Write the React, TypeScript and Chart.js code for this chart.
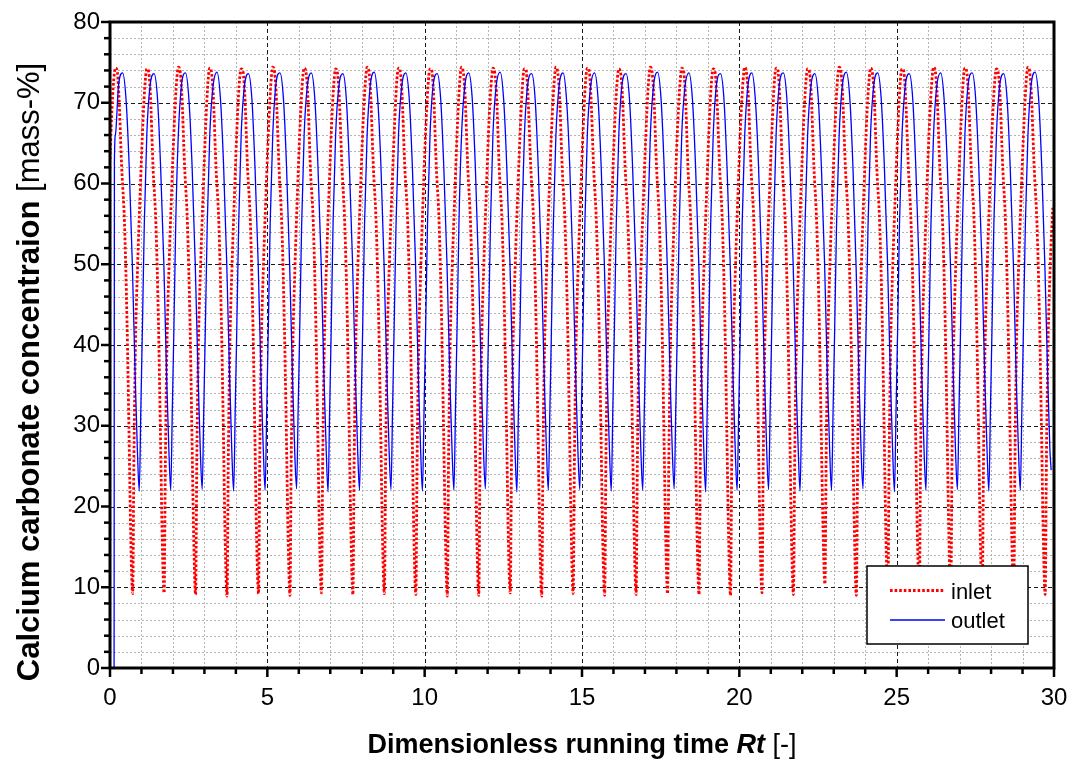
import React, { useEffect, useRef } from 'react';
import { Chart, registerables } from 'chart.js';

Chart.register(...registerables);

// ---------- data ----------
const seriesNames = ['inlet', 'outlet'];

const xMajorTicks = [0, 5, 10, 15, 20, 25, 30];
const yMajorTicks = [0, 10, 20, 30, 40, 50, 60, 70, 80];
const xMinorStep = 1;
const yMinorStep = 2;

const inletTime = [
  0,
  0.05, 0.12, 0.17, 0.22, 0.28, 0.37, 0.46, 0.54, 0.60, 0.66, 0.72, 0.76, 0.81, 0.88, 0.96,
  1.05, 1.12, 1.17, 1.22, 1.28, 1.37, 1.46, 1.54, 1.60, 1.66, 1.72, 1.76, 1.81, 1.88, 1.96,
  2.05, 2.12, 2.17, 2.22, 2.28, 2.37, 2.46, 2.54, 2.60, 2.66, 2.72, 2.76, 2.81, 2.88, 2.96,
  3.05, 3.12, 3.17, 3.22, 3.28, 3.37, 3.46, 3.54, 3.60, 3.66, 3.72, 3.76, 3.81, 3.88, 3.96,
  4.05, 4.12, 4.17, 4.22, 4.28, 4.37, 4.46, 4.54, 4.60, 4.66, 4.72, 4.76, 4.81, 4.88, 4.96,
  5.05, 5.12, 5.17, 5.22, 5.28, 5.37, 5.46, 5.54, 5.60, 5.66, 5.72, 5.76, 5.81, 5.88, 5.96,
  6.05, 6.12, 6.17, 6.22, 6.28, 6.37, 6.46, 6.54, 6.60, 6.66, 6.72, 6.76, 6.81, 6.88, 6.96,
  7.05, 7.12, 7.17, 7.22, 7.28, 7.37, 7.46, 7.54, 7.60, 7.66, 7.72, 7.76, 7.81, 7.88, 7.96,
  8.05, 8.12, 8.17, 8.22, 8.28, 8.37, 8.46, 8.54, 8.60, 8.66, 8.72, 8.76, 8.81, 8.88, 8.96,
  9.05, 9.12, 9.17, 9.22, 9.28, 9.37, 9.46, 9.54, 9.60, 9.66, 9.72, 9.76, 9.81, 9.88, 9.96,
  10.05, 10.12, 10.17, 10.22, 10.28, 10.37, 10.46, 10.54, 10.60, 10.66, 10.72, 10.76, 10.81, 10.88, 10.96,
  11.05, 11.12, 11.17, 11.22, 11.28, 11.37, 11.46, 11.54, 11.60, 11.66, 11.72, 11.76, 11.81, 11.88, 11.96,
  12.05, 12.12, 12.17, 12.22, 12.28, 12.37, 12.46, 12.54, 12.60, 12.66, 12.72, 12.76, 12.81, 12.88, 12.96,
  13.05, 13.12, 13.17, 13.22, 13.28, 13.37, 13.46, 13.54, 13.60, 13.66, 13.72, 13.76, 13.81, 13.88, 13.96,
  14.05, 14.12, 14.17, 14.22, 14.28, 14.37, 14.46, 14.54, 14.60, 14.66, 14.72, 14.76, 14.81, 14.88, 14.96,
  15.05, 15.12, 15.17, 15.22, 15.28, 15.37, 15.46, 15.54, 15.60, 15.66, 15.72, 15.76, 15.81, 15.88, 15.96,
  16.05, 16.12, 16.17, 16.22, 16.28, 16.37, 16.46, 16.54, 16.60, 16.66, 16.72, 16.76, 16.81, 16.88, 16.96,
  17.05, 17.12, 17.17, 17.22, 17.28, 17.37, 17.46, 17.54, 17.60, 17.66, 17.72, 17.76, 17.81, 17.88, 17.96,
  18.05, 18.12, 18.17, 18.22, 18.28, 18.37, 18.46, 18.54, 18.60, 18.66, 18.72, 18.76, 18.81, 18.88, 18.96,
  19.05, 19.12, 19.17, 19.22, 19.28, 19.37, 19.46, 19.54, 19.60, 19.66, 19.72, 19.76, 19.81, 19.88, 19.96,
  20.05, 20.12, 20.17, 20.22, 20.28, 20.37, 20.46, 20.54, 20.60, 20.66, 20.72, 20.76, 20.81, 20.88, 20.96,
  21.05, 21.12, 21.17, 21.22, 21.28, 21.37, 21.46, 21.54, 21.60, 21.66, 21.72, 21.76, 21.81, 21.88, 21.96,
  22.05, 22.12, 22.17, 22.22, 22.28, 22.37, 22.46, 22.54, 22.60, 22.66, 22.72, 22.76, 22.81, 22.88, 22.96,
  23.05, 23.12, 23.17, 23.22, 23.28, 23.37, 23.46, 23.54, 23.60, 23.66, 23.72, 23.76, 23.81, 23.88, 23.96,
  24.05, 24.12, 24.17, 24.22, 24.28, 24.37, 24.46, 24.54, 24.60, 24.66, 24.72, 24.76, 24.81, 24.88, 24.96,
  25.05, 25.12, 25.17, 25.22, 25.28, 25.37, 25.46, 25.54, 25.60, 25.66, 25.72, 25.76, 25.81, 25.88, 25.96,
  26.05, 26.12, 26.17, 26.22, 26.28, 26.37, 26.46, 26.54, 26.60, 26.66, 26.72, 26.76, 26.81, 26.88, 26.96,
  27.05, 27.12, 27.17, 27.22, 27.28, 27.37, 27.46, 27.54, 27.60, 27.66, 27.72, 27.76, 27.81, 27.88, 27.96,
  28.05, 28.12, 28.17, 28.22, 28.28, 28.37, 28.46, 28.54, 28.60, 28.66, 28.72, 28.76, 28.81, 28.88, 28.96,
  29.05, 29.12, 29.17, 29.22, 29.28, 29.37, 29.46, 29.54, 29.60, 29.66, 29.72, 29.76, 29.81, 29.88, 29.96,
];

const inletValue = [
  63.0,
  68.2, 72.9, 74.3, 74.1, 71.2, 62.1, 55.2, 43.0, 30.1, 16.2, 9.2, 26.1, 40.2, 50.1, 59.0,
  67.9, 72.7, 74.2, 74.0, 71.4, 61.8, 54.9, 42.7, 29.8, 15.9, 9.3, 25.8, 39.9, 50.2, 59.2,
  68.1, 72.8, 74.4, 74.1, 71.3, 62.2, 55.1, 43.2, 30.0, 16.1, 9.1, 26.2, 40.1, 49.8, 58.9,
  68.0, 72.9, 74.3, 73.9, 71.1, 61.9, 55.0, 42.9, 30.2, 15.8, 8.9, 25.9, 40.0, 50.0, 59.1,
  68.3, 73.0, 74.2, 74.0, 71.3, 62.0, 55.3, 43.1, 29.9, 16.0, 9.2, 26.0, 40.3, 50.2, 59.0,
  67.8, 72.8, 74.4, 74.1, 71.2, 62.1, 54.8, 42.8, 30.1, 16.3, 9.0, 26.3, 39.8, 49.9, 59.2,
  68.1, 72.9, 74.3, 74.0, 71.4, 61.8, 55.1, 43.0, 30.0, 15.9, 9.3, 25.8, 40.1, 50.1, 58.8,
  68.0, 72.7, 74.2, 73.9, 71.2, 62.2, 55.0, 43.3, 29.8, 16.1, 9.1, 26.1, 40.0, 50.0, 59.1,
  68.2, 72.8, 74.4, 74.1, 71.3, 62.0, 54.9, 42.9, 30.2, 16.0, 9.2, 26.0, 40.2, 50.3, 59.0,
  67.9, 73.0, 74.3, 74.0, 71.1, 61.9, 55.2, 43.1, 30.0, 15.8, 9.1, 25.9, 39.9, 49.8, 59.3,
  68.1, 72.8, 74.2, 74.1, 71.4, 62.1, 55.0, 42.8, 29.9, 16.2, 8.9, 26.2, 40.1, 50.1, 58.9,
  68.0, 72.9, 74.4, 74.0, 71.2, 62.0, 54.8, 43.2, 30.1, 16.0, 9.0, 26.0, 40.0, 50.0, 59.1,
  68.2, 72.7, 74.3, 73.9, 71.3, 61.8, 55.1, 43.0, 30.0, 15.9, 9.3, 25.8, 40.3, 50.2, 59.0,
  67.8, 72.9, 74.2, 74.1, 71.1, 62.2, 55.3, 42.9, 29.8, 16.1, 8.9, 26.1, 39.8, 49.9, 59.2,
  68.1, 72.8, 74.4, 74.0, 71.4, 62.0, 55.0, 43.1, 30.2, 16.3, 9.2, 26.3, 40.1, 50.1, 58.8,
  68.0, 73.0, 74.3, 74.1, 71.2, 61.9, 54.9, 42.8, 30.0, 15.8, 9.0, 25.9, 40.0, 50.0, 59.1,
  68.3, 72.8, 74.2, 73.9, 71.3, 62.1, 55.2, 43.2, 29.9, 16.0, 9.1, 26.0, 40.2, 50.3, 59.0,
  67.9, 72.9, 74.4, 74.0, 71.1, 62.0, 55.0, 43.0, 30.1, 16.2, 9.2, 26.2, 39.9, 49.8, 59.3,
  68.1, 72.7, 74.3, 74.1, 71.4, 61.8, 54.8, 42.9, 30.0, 15.9, 9.1, 25.8, 40.1, 50.1, 58.9,
  68.0, 72.9, 74.2, 74.0, 71.2, 62.2, 55.1, 43.1, 29.8, 16.1, 9.0, 26.1, 40.0, 50.0, 59.1,
  68.2, 72.8, 74.4, 73.9, 71.3, 62.0, 55.3, 42.8, 30.2, 16.0, 9.3, 26.0, 40.3, 50.2, 59.0,
  67.8, 73.0, 74.3, 74.1, 71.1, 61.9, 55.0, 43.2, 30.0, 15.8, 9.1, 25.9, 39.8, 49.9, 59.2,
  68.1, 72.8, 74.2, 74.0, 71.4, 62.1, 54.9, 43.0, 29.9, 17.2, 10.4, 26.6, 40.1, 50.1, 58.8,
  68.0, 72.9, 74.4, 74.1, 71.2, 62.0, 55.2, 42.9, 30.1, 16.2, 9.0, 26.2, 40.0, 50.0, 59.1,
  68.2, 72.7, 74.3, 73.9, 71.3, 61.8, 55.0, 43.1, 30.0, 15.9, 9.2, 25.8, 40.2, 50.3, 59.0,
  67.9, 72.9, 74.2, 74.0, 71.1, 62.2, 54.8, 42.8, 29.8, 16.1, 9.1, 26.1, 39.9, 49.8, 59.3,
  68.1, 72.8, 74.4, 74.1, 71.4, 62.0, 55.1, 43.2, 30.2, 16.3, 9.0, 26.3, 40.1, 50.1, 58.9,
  68.0, 73.0, 74.3, 74.0, 71.2, 61.9, 55.3, 43.0, 30.0, 15.8, 9.2, 25.9, 40.0, 50.0, 59.1,
  68.3, 72.8, 74.2, 73.9, 71.3, 62.1, 55.0, 42.9, 29.9, 16.0, 9.1, 26.0, 40.2, 50.2, 59.0,
  67.9, 72.9, 74.4, 74.0, 71.1, 62.0, 54.9, 43.1, 30.1, 16.2, 9.1, 26.2, 39.9, 49.9, 57.0,
];

const outletTime = [
  0.13, 0.14, 0.17, 0.27, 0.40, 0.51, 0.61, 0.71, 0.80, 0.87, 0.93, 0.98,
  1.03, 1.09, 1.17, 1.27, 1.40, 1.51, 1.61, 1.71, 1.80, 1.87, 1.93, 1.98,
  2.03, 2.09, 2.17, 2.27, 2.40, 2.51, 2.61, 2.71, 2.80, 2.87, 2.93, 2.98,
  3.03, 3.09, 3.17, 3.27, 3.40, 3.51, 3.61, 3.71, 3.80, 3.87, 3.93, 3.98,
  4.03, 4.09, 4.17, 4.27, 4.40, 4.51, 4.61, 4.71, 4.80, 4.87, 4.93, 4.98,
  5.03, 5.09, 5.17, 5.27, 5.40, 5.51, 5.61, 5.71, 5.80, 5.87, 5.93, 5.98,
  6.03, 6.09, 6.17, 6.27, 6.40, 6.51, 6.61, 6.71, 6.80, 6.87, 6.93, 6.98,
  7.03, 7.09, 7.17, 7.27, 7.40, 7.51, 7.61, 7.71, 7.80, 7.87, 7.93, 7.98,
  8.03, 8.09, 8.17, 8.27, 8.40, 8.51, 8.61, 8.71, 8.80, 8.87, 8.93, 8.98,
  9.03, 9.09, 9.17, 9.27, 9.40, 9.51, 9.61, 9.71, 9.80, 9.87, 9.93, 9.98,
  10.03, 10.09, 10.17, 10.27, 10.40, 10.51, 10.61, 10.71, 10.80, 10.87, 10.93, 10.98,
  11.03, 11.09, 11.17, 11.27, 11.40, 11.51, 11.61, 11.71, 11.80, 11.87, 11.93, 11.98,
  12.03, 12.09, 12.17, 12.27, 12.40, 12.51, 12.61, 12.71, 12.80, 12.87, 12.93, 12.98,
  13.03, 13.09, 13.17, 13.27, 13.40, 13.51, 13.61, 13.71, 13.80, 13.87, 13.93, 13.98,
  14.03, 14.09, 14.17, 14.27, 14.40, 14.51, 14.61, 14.71, 14.80, 14.87, 14.93, 14.98,
  15.03, 15.09, 15.17, 15.27, 15.40, 15.51, 15.61, 15.71, 15.80, 15.87, 15.93, 15.98,
  16.03, 16.09, 16.17, 16.27, 16.40, 16.51, 16.61, 16.71, 16.80, 16.87, 16.93, 16.98,
  17.03, 17.09, 17.17, 17.27, 17.40, 17.51, 17.61, 17.71, 17.80, 17.87, 17.93, 17.98,
  18.03, 18.09, 18.17, 18.27, 18.40, 18.51, 18.61, 18.71, 18.80, 18.87, 18.93, 18.98,
  19.03, 19.09, 19.17, 19.27, 19.40, 19.51, 19.61, 19.71, 19.80, 19.87, 19.93, 19.98,
  20.03, 20.09, 20.17, 20.27, 20.40, 20.51, 20.61, 20.71, 20.80, 20.87, 20.93, 20.98,
  21.03, 21.09, 21.17, 21.27, 21.40, 21.51, 21.61, 21.71, 21.80, 21.87, 21.93, 21.98,
  22.03, 22.09, 22.17, 22.27, 22.40, 22.51, 22.61, 22.71, 22.80, 22.87, 22.93, 22.98,
  23.03, 23.09, 23.17, 23.27, 23.40, 23.51, 23.61, 23.71, 23.80, 23.87, 23.93, 23.98,
  24.03, 24.09, 24.17, 24.27, 24.40, 24.51, 24.61, 24.71, 24.80, 24.87, 24.93, 24.98,
  25.03, 25.09, 25.17, 25.27, 25.40, 25.51, 25.61, 25.71, 25.80, 25.87, 25.93, 25.98,
  26.03, 26.09, 26.17, 26.27, 26.40, 26.51, 26.61, 26.71, 26.80, 26.87, 26.93, 26.98,
  27.03, 27.09, 27.17, 27.27, 27.40, 27.51, 27.61, 27.71, 27.80, 27.87, 27.93, 27.98,
  28.03, 28.09, 28.17, 28.27, 28.40, 28.51, 28.61, 28.71, 28.80, 28.87, 28.93, 28.98,
  29.03, 29.09, 29.17, 29.27, 29.40, 29.51, 29.61, 29.71, 29.80, 29.87, 29.91,
];

const outletValue = [
  0.0, 62.5, 66.0, 72.1, 73.7, 70.4, 62.1, 50.0, 36.1, 27.0, 21.9, 32.1,
  42.1, 55.0, 66.1, 72.0, 73.6, 70.5, 61.9, 50.2, 35.9, 27.1, 22.0, 31.9,
  41.9, 55.2, 65.9, 72.1, 73.7, 70.3, 62.0, 49.9, 36.0, 26.9, 22.1, 32.0,
  42.0, 54.9, 66.0, 71.9, 73.8, 70.5, 62.2, 50.1, 36.2, 27.0, 21.9, 32.1,
  42.2, 55.1, 66.2, 72.0, 73.6, 70.4, 61.8, 50.0, 35.8, 27.2, 22.0, 31.8,
  41.8, 55.0, 65.8, 72.2, 73.7, 70.6, 62.1, 49.8, 36.1, 26.8, 22.2, 32.2,
  42.1, 54.8, 66.1, 72.0, 73.7, 70.4, 62.0, 50.2, 36.0, 27.1, 21.8, 31.9,
  41.9, 55.2, 66.0, 71.9, 73.6, 70.5, 61.9, 50.0, 35.9, 27.0, 22.0, 32.0,
  42.0, 55.1, 65.9, 72.1, 73.8, 70.3, 62.2, 49.9, 36.2, 26.9, 22.1, 32.1,
  42.2, 54.9, 66.2, 72.0, 73.7, 70.5, 62.0, 50.1, 36.0, 27.2, 21.9, 31.8,
  41.8, 55.0, 66.0, 72.2, 73.6, 70.4, 61.8, 50.0, 35.8, 27.0, 22.0, 32.2,
  42.1, 55.2, 65.8, 71.9, 73.7, 70.6, 62.1, 49.8, 36.1, 26.8, 22.2, 31.9,
  41.9, 54.8, 66.1, 72.0, 73.8, 70.4, 62.0, 50.2, 36.0, 27.1, 21.8, 32.0,
  42.0, 55.1, 66.0, 72.1, 73.6, 70.5, 61.9, 50.0, 35.9, 27.0, 22.0, 32.1,
  42.2, 55.0, 65.9, 72.0, 73.7, 70.3, 62.2, 49.9, 36.2, 26.9, 22.1, 31.8,
  41.8, 54.9, 66.2, 71.9, 73.7, 70.5, 62.0, 50.1, 36.0, 27.2, 21.9, 32.2,
  42.1, 55.2, 66.0, 72.2, 73.6, 70.4, 61.8, 50.0, 35.8, 27.0, 22.0, 31.9,
  41.9, 55.0, 65.8, 72.0, 73.8, 70.6, 62.1, 49.8, 36.1, 26.8, 22.2, 32.0,
  42.0, 54.8, 66.1, 71.9, 73.7, 70.4, 62.0, 50.2, 36.0, 27.1, 21.8, 32.1,
  42.2, 55.1, 66.0, 72.1, 73.6, 70.5, 61.9, 50.0, 35.9, 27.0, 22.0, 31.8,
  41.8, 55.0, 65.9, 72.0, 73.7, 70.3, 62.2, 49.9, 36.2, 26.9, 22.1, 32.2,
  42.1, 54.9, 66.2, 72.2, 73.7, 70.5, 62.0, 50.1, 36.0, 27.2, 21.9, 31.9,
  41.9, 55.2, 66.0, 71.9, 73.6, 70.4, 61.8, 50.0, 35.8, 27.0, 22.0, 32.0,
  42.0, 55.0, 65.8, 72.0, 73.8, 70.6, 62.1, 49.8, 36.1, 26.8, 22.2, 32.1,
  42.2, 54.8, 66.1, 72.1, 73.7, 70.4, 62.0, 50.2, 36.0, 27.1, 21.8, 31.8,
  41.8, 55.1, 66.0, 72.0, 73.6, 70.5, 61.9, 50.0, 35.9, 27.0, 22.0, 32.2,
  42.1, 55.0, 65.9, 71.9, 73.7, 70.3, 62.2, 49.9, 36.2, 26.9, 22.1, 31.9,
  41.9, 54.9, 66.2, 72.2, 73.7, 70.5, 62.0, 50.1, 36.0, 27.2, 21.9, 32.0,
  42.0, 55.2, 66.0, 72.0, 73.6, 70.4, 61.8, 50.0, 35.8, 27.0, 22.0, 32.1,
  42.2, 55.0, 65.8, 72.1, 73.8, 70.6, 62.1, 49.8, 36.1, 27.0, 24.5,
];

// ---------- styling ----------
const FONT = '"Liberation Sans", Arial, Helvetica, sans-serif';
const W = 1072;
const H = 765;

const decorPlugin = {
  id: 'decor',
  beforeDatasetsDraw(chart: any) {
    const { ctx, chartArea } = chart;
    const { left, right, top, bottom } = chartArea;
    const xs = chart.scales.x;
    const ys = chart.scales.y;
    const xMin = xMajorTicks[0];
    const xMax = xMajorTicks[xMajorTicks.length - 1];
    const yMin = yMajorTicks[0];
    const yMax = yMajorTicks[yMajorTicks.length - 1];
    ctx.save();
    ctx.strokeStyle = '#b4b4b4';
    ctx.lineWidth = 1;
    ctx.setLineDash([2, 2]);
    for (let v = xMin + xMinorStep; v < xMax; v += xMinorStep) {
      if (xMajorTicks.includes(v)) continue;
      const px = Math.round(xs.getPixelForValue(v)) + 0.5;
      ctx.beginPath();
      ctx.moveTo(px, top);
      ctx.lineTo(px, bottom);
      ctx.stroke();
    }
    for (let v = yMin + yMinorStep; v < yMax; v += yMinorStep) {
      if (yMajorTicks.includes(v)) continue;
      const py = Math.round(ys.getPixelForValue(v)) + 0.5;
      ctx.beginPath();
      ctx.moveTo(left, py);
      ctx.lineTo(right, py);
      ctx.stroke();
    }
    ctx.strokeStyle = '#1a1a1a';
    ctx.setLineDash([4, 3]);
    for (const v of xMajorTicks) {
      if (v === xMin || v === xMax) continue;
      const px = Math.round(xs.getPixelForValue(v)) + 0.5;
      ctx.beginPath();
      ctx.moveTo(px, top);
      ctx.lineTo(px, bottom);
      ctx.stroke();
    }
    for (const v of yMajorTicks) {
      if (v === yMin || v === yMax) continue;
      const py = Math.round(ys.getPixelForValue(v)) + 0.5;
      ctx.beginPath();
      ctx.moveTo(left, py);
      ctx.lineTo(right, py);
      ctx.stroke();
    }
    ctx.restore();
  },
  afterDatasetsDraw(chart: any) {
    const { ctx, chartArea } = chart;
    const { left, right, top, bottom } = chartArea;
    const xs = chart.scales.x;
    const ys = chart.scales.y;
    const xMin = xMajorTicks[0];
    const xMax = xMajorTicks[xMajorTicks.length - 1];
    const yMin = yMajorTicks[0];
    const yMax = yMajorTicks[yMajorTicks.length - 1];
    ctx.save();
    ctx.setLineDash([]);
    ctx.strokeStyle = '#000';
    ctx.lineWidth = 2.5;
    for (let v = xMin; v <= xMax; v += xMinorStep) {
      const len = xMajorTicks.includes(v) ? 9 : 6;
      const px = xs.getPixelForValue(v);
      ctx.beginPath();
      ctx.moveTo(px, bottom);
      ctx.lineTo(px, bottom + len);
      ctx.stroke();
    }
    for (let v = yMin; v <= yMax; v += yMinorStep) {
      const len = yMajorTicks.includes(v) ? 9 : 6;
      const py = ys.getPixelForValue(v);
      ctx.beginPath();
      ctx.moveTo(left, py);
      ctx.lineTo(left - len, py);
      ctx.stroke();
    }
    ctx.lineWidth = 3;
    ctx.strokeRect(left, top, right - left, bottom - top);
    ctx.restore();
  },
  afterDraw(chart: any) {
    const { ctx, chartArea } = chart;
    const { left, right } = chartArea;
    ctx.save();
    ctx.fillStyle = '#000';
    ctx.textBaseline = 'alphabetic';
    ctx.textAlign = 'left';

    const xParts = [
      { t: 'Dimensionless running time ', f: `bold 27px ${FONT}` },
      { t: 'Rt', f: `italic bold 27px ${FONT}` },
      { t: ' [-]', f: `27px ${FONT}` },
    ];
    let total = 0;
    for (const p of xParts) { ctx.font = p.f; total += ctx.measureText(p.t).width; }
    let cx = (left + right) / 2 - total / 2;
    for (const p of xParts) { ctx.font = p.f; ctx.fillText(p.t, cx, 753); cx += ctx.measureText(p.t).width; }

    const yParts = [
      { t: 'Calcium carbonate concentraion', f: `bold 31px ${FONT}` },
      { t: ' [mass-%]', f: `31px ${FONT}` },
    ];
    total = 0;
    for (const p of yParts) { ctx.font = p.f; total += ctx.measureText(p.t).width; }
    ctx.translate(39, 372);
    ctx.rotate(-Math.PI / 2);
    let cy = -total / 2;
    for (const p of yParts) { ctx.font = p.f; ctx.fillText(p.t, cy, 0); cy += ctx.measureText(p.t).width; }
    ctx.setTransform(1, 0, 0, 1, 0, 0);

    const bx = 867, by = 566, bw = 161, bh = 78;
    ctx.fillStyle = '#fff';
    ctx.fillRect(bx, by, bw, bh);
    ctx.strokeStyle = '#000';
    ctx.lineWidth = 1.5;
    ctx.strokeRect(bx, by, bw, bh);
    const ds = chart.data.datasets;
    const rows = [590.5, 620];
    ds.forEach((d: any, i: number) => {
      ctx.strokeStyle = d.borderColor;
      ctx.lineWidth = d.borderWidth;
      ctx.setLineDash(d.borderDash || []);
      ctx.beginPath();
      ctx.moveTo(890, rows[i]);
      ctx.lineTo(945, rows[i]);
      ctx.stroke();
      ctx.setLineDash([]);
      ctx.fillStyle = '#000';
      ctx.font = `22px ${FONT}`;
      ctx.fillText(d.label, 951, rows[i] + 8);
    });
    ctx.restore();
  },
};

export default function App() {
  const ref = useRef<HTMLCanvasElement | null>(null);

  useEffect(() => {
    if (!ref.current) return;
    const chart = new Chart(ref.current, {
      type: 'line',
      data: {
        datasets: [
          {
            label: seriesNames[0],
            data: inletTime.map((t, i) => ({ x: t, y: inletValue[i] })),
            borderColor: '#ff0000',
            borderWidth: 2.8,
            borderDash: [2.6, 2],
            borderCapStyle: 'butt',
            pointRadius: 0,
            cubicInterpolationMode: 'monotone',
            fill: false,
            order: 2,
          },
          {
            label: seriesNames[1],
            data: outletTime.map((t, i) => ({ x: t, y: outletValue[i] })),
            borderColor: '#0000ff',
            borderWidth: 1.3,
            pointRadius: 0,
            cubicInterpolationMode: 'monotone',
            fill: false,
            order: 1,
          },
        ],
      },
      options: {
        responsive: false,
        animation: false,
        layout: { padding: { left: 0, top: 22, right: 18, bottom: 0 } },
        plugins: { legend: { display: false }, tooltip: { enabled: false } },
        scales: {
          x: {
            type: 'linear',
            min: xMajorTicks[0],
            max: xMajorTicks[xMajorTicks.length - 1],
            grid: { display: false, drawTicks: false },
            border: { display: false },
            ticks: {
              stepSize: 5,
              autoSkip: false,
              maxRotation: 0,
              padding: 16,
              color: '#000',
              font: { family: FONT, size: 24 },
            },
            afterFit: (s: any) => { s.height = 97; s.paddingLeft = 0; s.paddingRight = 0; },
          },
          y: {
            type: 'linear',
            min: yMajorTicks[0],
            max: yMajorTicks[yMajorTicks.length - 1],
            grid: { display: false, drawTicks: false },
            border: { display: false },
            ticks: {
              stepSize: 10,
              autoSkip: false,
              padding: 10,
              color: '#000',
              font: { family: FONT, size: 24 },
            },
            afterFit: (s: any) => { s.width = 110; s.paddingTop = 0; s.paddingBottom = 0; },
          },
        },
      },
      plugins: [decorPlugin],
    } as any);
    return () => chart.destroy();
  }, []);

  return (
    <div style={{ position: 'fixed', left: 0, top: 0, width: W, height: H, background: '#fff' }}>
      <canvas ref={ref} width={W} height={H} style={{ width: W, height: H, display: 'block' }} />
    </div>
  );
}
